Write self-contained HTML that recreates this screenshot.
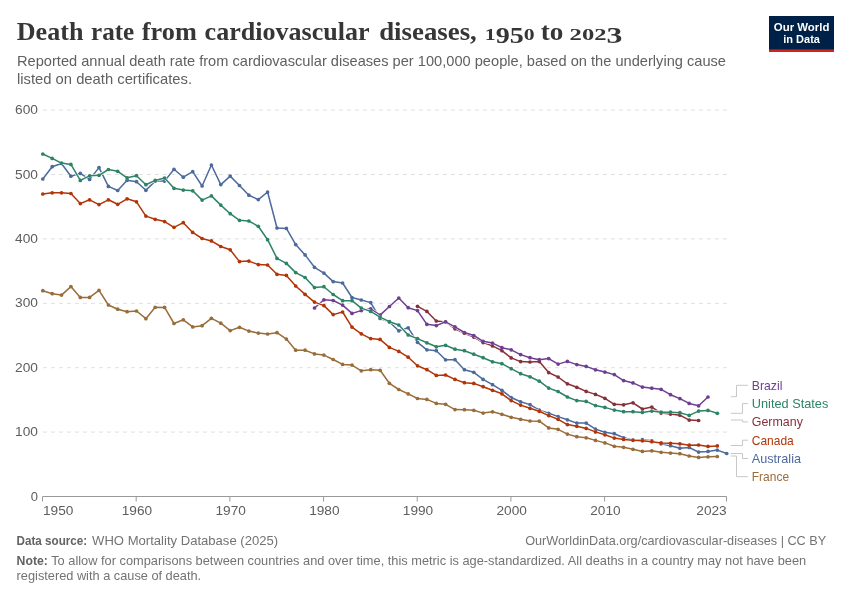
<!DOCTYPE html>
<html lang="en"><head><meta charset="utf-8"><title>Death rate from cardiovascular diseases, 1950 to 2023</title>
<style>html,body{margin:0;padding:0;background:#fff}svg{display:block}text{font-family:"Liberation Sans", Arial, sans-serif}.t text{font-family:"Liberation Serif", "Times New Roman", serif;font-weight:700}</style></head><body>
<svg width="850" height="600" viewBox="0 0 850 600">
<rect width="850" height="600" fill="#fff"/>
<g class="t" fill="#363636" font-size="26">
<text x="16.8" y="39.6" textLength="66.6" lengthAdjust="spacingAndGlyphs">Death</text>
<text x="91.0" y="39.6" textLength="43.2" lengthAdjust="spacingAndGlyphs">rate</text>
<text x="141.8" y="39.6" textLength="55.0" lengthAdjust="spacingAndGlyphs">from</text>
<text x="204.6" y="39.6" textLength="165.0" lengthAdjust="spacingAndGlyphs">cardiovascular</text>
<text x="379.2" y="39.6" textLength="97.6" lengthAdjust="spacingAndGlyphs">diseases,</text>
<text x="484.8" y="39.6" font-size="17.5" textLength="49.8" lengthAdjust="spacingAndGlyphs">1<tspan font-size="22.6" dy="3.6">95</tspan><tspan dy="-3.6">0</tspan></text>
<text x="540.8" y="39.6" textLength="22.6" lengthAdjust="spacingAndGlyphs">to</text>
<text x="569.6" y="39.6" font-size="17.5" textLength="52.8" lengthAdjust="spacingAndGlyphs">202<tspan font-size="22.6" dy="3.6">3</tspan></text>
</g>
<text x="17" y="65.6" font-size="15" fill="#606060" textLength="709" lengthAdjust="spacingAndGlyphs">Reported annual death rate from cardiovascular diseases per 100,000 people, based on the underlying cause</text>
<text x="17" y="83.6" font-size="15" fill="#606060" textLength="175" lengthAdjust="spacingAndGlyphs">listed on death certificates.</text>
<g><rect x="769" y="16" width="65" height="36" fill="#002147"/><rect x="769" y="49.4" width="65" height="2.6" fill="#CE261E"/>
<text x="801.6" y="30.7" font-size="11.5" font-weight="700" fill="#fff" text-anchor="middle" textLength="55.6" lengthAdjust="spacingAndGlyphs">Our World</text>
<text x="801.6" y="42.8" font-size="11.5" font-weight="700" fill="#fff" text-anchor="middle" textLength="36.7" lengthAdjust="spacingAndGlyphs">in Data</text></g>
<line x1="42.9" x2="726.9" y1="432.10" y2="432.10" stroke="#dfdfdf" stroke-width="1" stroke-dasharray="4,4"/>
<line x1="42.9" x2="726.9" y1="367.70" y2="367.70" stroke="#dfdfdf" stroke-width="1" stroke-dasharray="4,4"/>
<line x1="42.9" x2="726.9" y1="303.30" y2="303.30" stroke="#dfdfdf" stroke-width="1" stroke-dasharray="4,4"/>
<line x1="42.9" x2="726.9" y1="238.90" y2="238.90" stroke="#dfdfdf" stroke-width="1" stroke-dasharray="4,4"/>
<line x1="42.9" x2="726.9" y1="174.50" y2="174.50" stroke="#dfdfdf" stroke-width="1" stroke-dasharray="4,4"/>
<line x1="42.9" x2="726.9" y1="110.10" y2="110.10" stroke="#dfdfdf" stroke-width="1" stroke-dasharray="4,4"/>
<text x="30.70" y="500.60" font-size="13.5" fill="#5e5e5e" textLength="7.2" lengthAdjust="spacingAndGlyphs">0</text>
<text x="15.00" y="436.20" font-size="13.5" fill="#5e5e5e" textLength="22.9" lengthAdjust="spacingAndGlyphs">100</text>
<text x="15.00" y="371.80" font-size="13.5" fill="#5e5e5e" textLength="22.9" lengthAdjust="spacingAndGlyphs">200</text>
<text x="15.00" y="307.40" font-size="13.5" fill="#5e5e5e" textLength="22.9" lengthAdjust="spacingAndGlyphs">300</text>
<text x="15.00" y="243.00" font-size="13.5" fill="#5e5e5e" textLength="22.9" lengthAdjust="spacingAndGlyphs">400</text>
<text x="15.00" y="178.60" font-size="13.5" fill="#5e5e5e" textLength="22.9" lengthAdjust="spacingAndGlyphs">500</text>
<text x="15.00" y="114.20" font-size="13.5" fill="#5e5e5e" textLength="22.9" lengthAdjust="spacingAndGlyphs">600</text>
<path d="M42.5 501.5V496.5H726.5V501.5" fill="none" stroke="#999" stroke-width="1"/>
<line x1="136.18" x2="136.18" y1="496.5" y2="501.5" stroke="#999"/>
<text x="121.78" y="514.6" font-size="13.5" fill="#5e5e5e" textLength="30.4" lengthAdjust="spacingAndGlyphs">1960</text>
<line x1="229.87" x2="229.87" y1="496.5" y2="501.5" stroke="#999"/>
<text x="215.47" y="514.6" font-size="13.5" fill="#5e5e5e" textLength="30.4" lengthAdjust="spacingAndGlyphs">1970</text>
<line x1="323.55" x2="323.55" y1="496.5" y2="501.5" stroke="#999"/>
<text x="309.15" y="514.6" font-size="13.5" fill="#5e5e5e" textLength="30.4" lengthAdjust="spacingAndGlyphs">1980</text>
<line x1="417.24" x2="417.24" y1="496.5" y2="501.5" stroke="#999"/>
<text x="402.84" y="514.6" font-size="13.5" fill="#5e5e5e" textLength="30.4" lengthAdjust="spacingAndGlyphs">1990</text>
<line x1="510.92" x2="510.92" y1="496.5" y2="501.5" stroke="#999"/>
<text x="496.52" y="514.6" font-size="13.5" fill="#5e5e5e" textLength="30.4" lengthAdjust="spacingAndGlyphs">2000</text>
<line x1="604.61" x2="604.61" y1="496.5" y2="501.5" stroke="#999"/>
<text x="590.21" y="514.6" font-size="13.5" fill="#5e5e5e" textLength="30.4" lengthAdjust="spacingAndGlyphs">2010</text>
<text x="43.0" y="514.6" font-size="13.5" fill="#5e5e5e" textLength="30.4" lengthAdjust="spacingAndGlyphs">1950</text>
<text x="696.3" y="514.6" font-size="13.5" fill="#5e5e5e" textLength="30.4" lengthAdjust="spacingAndGlyphs">2023</text>
<g>
<path d="M42.8 179.0L52.2 166.7L61.5 163.5L70.9 176.2L80.3 173.4L89.6 179.4L99.0 167.6L108.4 186.4L117.7 190.5L127.1 180.3L136.5 181.7L145.9 190.3L155.2 181.1L164.6 181.1L174.0 169.3L183.3 177.2L192.7 171.7L202.1 186.0L211.4 165.0L220.8 184.6L230.2 176.1L239.5 185.5L248.9 195.2L258.3 199.6L267.6 192.0L277.0 228.0L286.4 228.4L295.7 244.6L305.1 254.9L314.5 267.3L323.9 273.1L333.2 281.6L342.6 283.0L352.0 297.5L361.3 300.0L370.7 302.6L380.1 318.5L389.4 322.0L398.8 330.8L408.2 327.8L417.5 342.3L426.9 349.8L436.3 350.7L445.6 359.8L455.0 359.7L464.4 369.7L473.8 372.3L483.1 379.4L492.5 384.7L501.9 390.3L511.2 397.5L520.6 401.8L530.0 404.6L539.3 410.1L548.7 413.3L558.1 416.6L567.4 419.8L576.8 423.1L586.2 423.1L595.5 429.2L604.9 432.3L614.3 433.7L623.6 437.8L633.0 440.1L642.4 439.7L651.8 440.8L661.1 443.8L670.5 445.7L679.9 448.2L689.2 447.5L698.6 452.1L708.0 451.4L717.3 450.1L726.7 453.5" fill="none" stroke="#fff" stroke-width="2.8" stroke-linejoin="round" stroke-linecap="round"/>
<path d="M42.8 179.0L52.2 166.7L61.5 163.5L70.9 176.2L80.3 173.4L89.6 179.4L99.0 167.6L108.4 186.4L117.7 190.5L127.1 180.3L136.5 181.7L145.9 190.3L155.2 181.1L164.6 181.1L174.0 169.3L183.3 177.2L192.7 171.7L202.1 186.0L211.4 165.0L220.8 184.6L230.2 176.1L239.5 185.5L248.9 195.2L258.3 199.6L267.6 192.0L277.0 228.0L286.4 228.4L295.7 244.6L305.1 254.9L314.5 267.3L323.9 273.1L333.2 281.6L342.6 283.0L352.0 297.5L361.3 300.0L370.7 302.6L380.1 318.5L389.4 322.0L398.8 330.8L408.2 327.8L417.5 342.3L426.9 349.8L436.3 350.7L445.6 359.8L455.0 359.7L464.4 369.7L473.8 372.3L483.1 379.4L492.5 384.7L501.9 390.3L511.2 397.5L520.6 401.8L530.0 404.6L539.3 410.1L548.7 413.3L558.1 416.6L567.4 419.8L576.8 423.1L586.2 423.1L595.5 429.2L604.9 432.3L614.3 433.7L623.6 437.8L633.0 440.1L642.4 439.7L651.8 440.8L661.1 443.8L670.5 445.7L679.9 448.2L689.2 447.5L698.6 452.1L708.0 451.4L717.3 450.1L726.7 453.5" fill="none" stroke="#4C6A9C" stroke-width="1.5" stroke-linejoin="round" stroke-linecap="round"/>
<g fill="#4C6A9C"><circle cx="42.8" cy="179.0" r="1.85"/><circle cx="52.2" cy="166.7" r="1.85"/><circle cx="61.5" cy="163.5" r="1.85"/><circle cx="70.9" cy="176.2" r="1.85"/><circle cx="80.3" cy="173.4" r="1.85"/><circle cx="89.6" cy="179.4" r="1.85"/><circle cx="99.0" cy="167.6" r="1.85"/><circle cx="108.4" cy="186.4" r="1.85"/><circle cx="117.7" cy="190.5" r="1.85"/><circle cx="127.1" cy="180.3" r="1.85"/><circle cx="136.5" cy="181.7" r="1.85"/><circle cx="145.9" cy="190.3" r="1.85"/><circle cx="155.2" cy="181.1" r="1.85"/><circle cx="164.6" cy="181.1" r="1.85"/><circle cx="174.0" cy="169.3" r="1.85"/><circle cx="183.3" cy="177.2" r="1.85"/><circle cx="192.7" cy="171.7" r="1.85"/><circle cx="202.1" cy="186.0" r="1.85"/><circle cx="211.4" cy="165.0" r="1.85"/><circle cx="220.8" cy="184.6" r="1.85"/><circle cx="230.2" cy="176.1" r="1.85"/><circle cx="239.5" cy="185.5" r="1.85"/><circle cx="248.9" cy="195.2" r="1.85"/><circle cx="258.3" cy="199.6" r="1.85"/><circle cx="267.6" cy="192.0" r="1.85"/><circle cx="277.0" cy="228.0" r="1.85"/><circle cx="286.4" cy="228.4" r="1.85"/><circle cx="295.7" cy="244.6" r="1.85"/><circle cx="305.1" cy="254.9" r="1.85"/><circle cx="314.5" cy="267.3" r="1.85"/><circle cx="323.9" cy="273.1" r="1.85"/><circle cx="333.2" cy="281.6" r="1.85"/><circle cx="342.6" cy="283.0" r="1.85"/><circle cx="352.0" cy="297.5" r="1.85"/><circle cx="361.3" cy="300.0" r="1.85"/><circle cx="370.7" cy="302.6" r="1.85"/><circle cx="380.1" cy="318.5" r="1.85"/><circle cx="389.4" cy="322.0" r="1.85"/><circle cx="398.8" cy="330.8" r="1.85"/><circle cx="408.2" cy="327.8" r="1.85"/><circle cx="417.5" cy="342.3" r="1.85"/><circle cx="426.9" cy="349.8" r="1.85"/><circle cx="436.3" cy="350.7" r="1.85"/><circle cx="445.6" cy="359.8" r="1.85"/><circle cx="455.0" cy="359.7" r="1.85"/><circle cx="464.4" cy="369.7" r="1.85"/><circle cx="473.8" cy="372.3" r="1.85"/><circle cx="483.1" cy="379.4" r="1.85"/><circle cx="492.5" cy="384.7" r="1.85"/><circle cx="501.9" cy="390.3" r="1.85"/><circle cx="511.2" cy="397.5" r="1.85"/><circle cx="520.6" cy="401.8" r="1.85"/><circle cx="530.0" cy="404.6" r="1.85"/><circle cx="539.3" cy="410.1" r="1.85"/><circle cx="548.7" cy="413.3" r="1.85"/><circle cx="558.1" cy="416.6" r="1.85"/><circle cx="567.4" cy="419.8" r="1.85"/><circle cx="576.8" cy="423.1" r="1.85"/><circle cx="586.2" cy="423.1" r="1.85"/><circle cx="595.5" cy="429.2" r="1.85"/><circle cx="604.9" cy="432.3" r="1.85"/><circle cx="614.3" cy="433.7" r="1.85"/><circle cx="623.6" cy="437.8" r="1.85"/><circle cx="633.0" cy="440.1" r="1.85"/><circle cx="642.4" cy="439.7" r="1.85"/><circle cx="651.8" cy="440.8" r="1.85"/><circle cx="661.1" cy="443.8" r="1.85"/><circle cx="670.5" cy="445.7" r="1.85"/><circle cx="679.9" cy="448.2" r="1.85"/><circle cx="689.2" cy="447.5" r="1.85"/><circle cx="698.6" cy="452.1" r="1.85"/><circle cx="708.0" cy="451.4" r="1.85"/><circle cx="717.3" cy="450.1" r="1.85"/><circle cx="726.7" cy="453.5" r="1.85"/></g>
</g>
<g>
<path d="M417.5 306.3L426.9 311.4L436.3 321.0L445.6 322.0L455.0 328.8L464.4 333.2L473.8 337.1L483.1 342.6L492.5 345.9L501.9 350.7L511.2 357.9L520.6 361.6L530.0 362.0L539.3 361.6L548.7 372.6L558.1 377.0L567.4 383.8L576.8 387.3L586.2 391.4L595.5 394.4L604.9 398.3L614.3 404.3L623.6 404.8L633.0 402.8L642.4 409.0L651.8 407.1L661.1 413.1L670.5 414.1L679.9 415.2L689.2 420.1L698.6 420.5" fill="none" stroke="#fff" stroke-width="2.8" stroke-linejoin="round" stroke-linecap="round"/>
<path d="M417.5 306.3L426.9 311.4L436.3 321.0L445.6 322.0L455.0 328.8L464.4 333.2L473.8 337.1L483.1 342.6L492.5 345.9L501.9 350.7L511.2 357.9L520.6 361.6L530.0 362.0L539.3 361.6L548.7 372.6L558.1 377.0L567.4 383.8L576.8 387.3L586.2 391.4L595.5 394.4L604.9 398.3L614.3 404.3L623.6 404.8L633.0 402.8L642.4 409.0L651.8 407.1L661.1 413.1L670.5 414.1L679.9 415.2L689.2 420.1L698.6 420.5" fill="none" stroke="#883039" stroke-width="1.5" stroke-linejoin="round" stroke-linecap="round"/>
<g fill="#883039"><circle cx="417.5" cy="306.3" r="1.85"/><circle cx="426.9" cy="311.4" r="1.85"/><circle cx="436.3" cy="321.0" r="1.85"/><circle cx="445.6" cy="322.0" r="1.85"/><circle cx="455.0" cy="328.8" r="1.85"/><circle cx="464.4" cy="333.2" r="1.85"/><circle cx="473.8" cy="337.1" r="1.85"/><circle cx="483.1" cy="342.6" r="1.85"/><circle cx="492.5" cy="345.9" r="1.85"/><circle cx="501.9" cy="350.7" r="1.85"/><circle cx="511.2" cy="357.9" r="1.85"/><circle cx="520.6" cy="361.6" r="1.85"/><circle cx="530.0" cy="362.0" r="1.85"/><circle cx="539.3" cy="361.6" r="1.85"/><circle cx="548.7" cy="372.6" r="1.85"/><circle cx="558.1" cy="377.0" r="1.85"/><circle cx="567.4" cy="383.8" r="1.85"/><circle cx="576.8" cy="387.3" r="1.85"/><circle cx="586.2" cy="391.4" r="1.85"/><circle cx="595.5" cy="394.4" r="1.85"/><circle cx="604.9" cy="398.3" r="1.85"/><circle cx="614.3" cy="404.3" r="1.85"/><circle cx="623.6" cy="404.8" r="1.85"/><circle cx="633.0" cy="402.8" r="1.85"/><circle cx="642.4" cy="409.0" r="1.85"/><circle cx="651.8" cy="407.1" r="1.85"/><circle cx="661.1" cy="413.1" r="1.85"/><circle cx="670.5" cy="414.1" r="1.85"/><circle cx="679.9" cy="415.2" r="1.85"/><circle cx="689.2" cy="420.1" r="1.85"/><circle cx="698.6" cy="420.5" r="1.85"/></g>
</g>
<g>
<path d="M314.5 308.0L323.9 299.8L333.2 300.5L342.6 305.1L352.0 313.4L361.3 310.6L370.7 308.8L380.1 315.1L389.4 306.5L398.8 298.0L408.2 307.7L417.5 310.6L426.9 324.3L436.3 325.6L445.6 321.8L455.0 326.9L464.4 332.5L473.8 335.5L483.1 341.3L492.5 343.1L501.9 347.7L511.2 349.8L520.6 354.6L530.0 357.7L539.3 359.7L548.7 358.6L558.1 364.1L567.4 361.4L576.8 364.6L586.2 366.4L595.5 369.8L604.9 372.1L614.3 374.6L623.6 380.6L633.0 382.9L642.4 387.1L651.8 388.2L661.1 389.3L670.5 394.7L679.9 398.6L689.2 403.4L698.6 405.8L708.0 397.0" fill="none" stroke="#fff" stroke-width="2.8" stroke-linejoin="round" stroke-linecap="round"/>
<path d="M314.5 308.0L323.9 299.8L333.2 300.5L342.6 305.1L352.0 313.4L361.3 310.6L370.7 308.8L380.1 315.1L389.4 306.5L398.8 298.0L408.2 307.7L417.5 310.6L426.9 324.3L436.3 325.6L445.6 321.8L455.0 326.9L464.4 332.5L473.8 335.5L483.1 341.3L492.5 343.1L501.9 347.7L511.2 349.8L520.6 354.6L530.0 357.7L539.3 359.7L548.7 358.6L558.1 364.1L567.4 361.4L576.8 364.6L586.2 366.4L595.5 369.8L604.9 372.1L614.3 374.6L623.6 380.6L633.0 382.9L642.4 387.1L651.8 388.2L661.1 389.3L670.5 394.7L679.9 398.6L689.2 403.4L698.6 405.8L708.0 397.0" fill="none" stroke="#6D3E91" stroke-width="1.5" stroke-linejoin="round" stroke-linecap="round"/>
<g fill="#6D3E91"><circle cx="314.5" cy="308.0" r="1.85"/><circle cx="323.9" cy="299.8" r="1.85"/><circle cx="333.2" cy="300.5" r="1.85"/><circle cx="342.6" cy="305.1" r="1.85"/><circle cx="352.0" cy="313.4" r="1.85"/><circle cx="361.3" cy="310.6" r="1.85"/><circle cx="370.7" cy="308.8" r="1.85"/><circle cx="380.1" cy="315.1" r="1.85"/><circle cx="389.4" cy="306.5" r="1.85"/><circle cx="398.8" cy="298.0" r="1.85"/><circle cx="408.2" cy="307.7" r="1.85"/><circle cx="417.5" cy="310.6" r="1.85"/><circle cx="426.9" cy="324.3" r="1.85"/><circle cx="436.3" cy="325.6" r="1.85"/><circle cx="445.6" cy="321.8" r="1.85"/><circle cx="455.0" cy="326.9" r="1.85"/><circle cx="464.4" cy="332.5" r="1.85"/><circle cx="473.8" cy="335.5" r="1.85"/><circle cx="483.1" cy="341.3" r="1.85"/><circle cx="492.5" cy="343.1" r="1.85"/><circle cx="501.9" cy="347.7" r="1.85"/><circle cx="511.2" cy="349.8" r="1.85"/><circle cx="520.6" cy="354.6" r="1.85"/><circle cx="530.0" cy="357.7" r="1.85"/><circle cx="539.3" cy="359.7" r="1.85"/><circle cx="548.7" cy="358.6" r="1.85"/><circle cx="558.1" cy="364.1" r="1.85"/><circle cx="567.4" cy="361.4" r="1.85"/><circle cx="576.8" cy="364.6" r="1.85"/><circle cx="586.2" cy="366.4" r="1.85"/><circle cx="595.5" cy="369.8" r="1.85"/><circle cx="604.9" cy="372.1" r="1.85"/><circle cx="614.3" cy="374.6" r="1.85"/><circle cx="623.6" cy="380.6" r="1.85"/><circle cx="633.0" cy="382.9" r="1.85"/><circle cx="642.4" cy="387.1" r="1.85"/><circle cx="651.8" cy="388.2" r="1.85"/><circle cx="661.1" cy="389.3" r="1.85"/><circle cx="670.5" cy="394.7" r="1.85"/><circle cx="679.9" cy="398.6" r="1.85"/><circle cx="689.2" cy="403.4" r="1.85"/><circle cx="698.6" cy="405.8" r="1.85"/><circle cx="708.0" cy="397.0" r="1.85"/></g>
</g>
<g>
<path d="M42.8 194.0L52.2 192.8L61.5 192.8L70.9 193.5L80.3 203.6L89.6 199.8L99.0 204.6L108.4 199.8L117.7 204.3L127.1 198.8L136.5 201.8L145.9 216.1L155.2 219.3L164.6 221.6L174.0 227.3L183.3 222.7L192.7 232.4L202.1 238.5L211.4 240.9L220.8 246.5L230.2 249.8L239.5 261.6L248.9 261.1L258.3 264.6L267.6 265.0L277.0 274.3L286.4 275.4L295.7 286.0L305.1 294.4L314.5 302.1L323.9 305.6L333.2 314.6L342.6 312.0L352.0 327.1L361.3 333.8L370.7 338.6L380.1 339.4L389.4 347.4L398.8 351.4L408.2 357.2L417.5 365.8L426.9 369.7L436.3 375.4L445.6 375.0L455.0 379.4L464.4 382.7L473.8 383.4L483.1 386.7L492.5 390.3L501.9 393.8L511.2 400.6L520.6 405.1L530.0 408.3L539.3 411.3L548.7 415.6L558.1 419.3L567.4 424.6L576.8 426.3L586.2 428.4L595.5 431.9L604.9 434.8L614.3 438.1L623.6 439.4L633.0 440.3L642.4 440.8L651.8 441.7L661.1 442.9L670.5 443.3L679.9 443.8L689.2 445.2L698.6 445.0L708.0 446.4L717.3 445.9" fill="none" stroke="#fff" stroke-width="2.8" stroke-linejoin="round" stroke-linecap="round"/>
<path d="M42.8 194.0L52.2 192.8L61.5 192.8L70.9 193.5L80.3 203.6L89.6 199.8L99.0 204.6L108.4 199.8L117.7 204.3L127.1 198.8L136.5 201.8L145.9 216.1L155.2 219.3L164.6 221.6L174.0 227.3L183.3 222.7L192.7 232.4L202.1 238.5L211.4 240.9L220.8 246.5L230.2 249.8L239.5 261.6L248.9 261.1L258.3 264.6L267.6 265.0L277.0 274.3L286.4 275.4L295.7 286.0L305.1 294.4L314.5 302.1L323.9 305.6L333.2 314.6L342.6 312.0L352.0 327.1L361.3 333.8L370.7 338.6L380.1 339.4L389.4 347.4L398.8 351.4L408.2 357.2L417.5 365.8L426.9 369.7L436.3 375.4L445.6 375.0L455.0 379.4L464.4 382.7L473.8 383.4L483.1 386.7L492.5 390.3L501.9 393.8L511.2 400.6L520.6 405.1L530.0 408.3L539.3 411.3L548.7 415.6L558.1 419.3L567.4 424.6L576.8 426.3L586.2 428.4L595.5 431.9L604.9 434.8L614.3 438.1L623.6 439.4L633.0 440.3L642.4 440.8L651.8 441.7L661.1 442.9L670.5 443.3L679.9 443.8L689.2 445.2L698.6 445.0L708.0 446.4L717.3 445.9" fill="none" stroke="#B13507" stroke-width="1.5" stroke-linejoin="round" stroke-linecap="round"/>
<g fill="#B13507"><circle cx="42.8" cy="194.0" r="1.85"/><circle cx="52.2" cy="192.8" r="1.85"/><circle cx="61.5" cy="192.8" r="1.85"/><circle cx="70.9" cy="193.5" r="1.85"/><circle cx="80.3" cy="203.6" r="1.85"/><circle cx="89.6" cy="199.8" r="1.85"/><circle cx="99.0" cy="204.6" r="1.85"/><circle cx="108.4" cy="199.8" r="1.85"/><circle cx="117.7" cy="204.3" r="1.85"/><circle cx="127.1" cy="198.8" r="1.85"/><circle cx="136.5" cy="201.8" r="1.85"/><circle cx="145.9" cy="216.1" r="1.85"/><circle cx="155.2" cy="219.3" r="1.85"/><circle cx="164.6" cy="221.6" r="1.85"/><circle cx="174.0" cy="227.3" r="1.85"/><circle cx="183.3" cy="222.7" r="1.85"/><circle cx="192.7" cy="232.4" r="1.85"/><circle cx="202.1" cy="238.5" r="1.85"/><circle cx="211.4" cy="240.9" r="1.85"/><circle cx="220.8" cy="246.5" r="1.85"/><circle cx="230.2" cy="249.8" r="1.85"/><circle cx="239.5" cy="261.6" r="1.85"/><circle cx="248.9" cy="261.1" r="1.85"/><circle cx="258.3" cy="264.6" r="1.85"/><circle cx="267.6" cy="265.0" r="1.85"/><circle cx="277.0" cy="274.3" r="1.85"/><circle cx="286.4" cy="275.4" r="1.85"/><circle cx="295.7" cy="286.0" r="1.85"/><circle cx="305.1" cy="294.4" r="1.85"/><circle cx="314.5" cy="302.1" r="1.85"/><circle cx="323.9" cy="305.6" r="1.85"/><circle cx="333.2" cy="314.6" r="1.85"/><circle cx="342.6" cy="312.0" r="1.85"/><circle cx="352.0" cy="327.1" r="1.85"/><circle cx="361.3" cy="333.8" r="1.85"/><circle cx="370.7" cy="338.6" r="1.85"/><circle cx="380.1" cy="339.4" r="1.85"/><circle cx="389.4" cy="347.4" r="1.85"/><circle cx="398.8" cy="351.4" r="1.85"/><circle cx="408.2" cy="357.2" r="1.85"/><circle cx="417.5" cy="365.8" r="1.85"/><circle cx="426.9" cy="369.7" r="1.85"/><circle cx="436.3" cy="375.4" r="1.85"/><circle cx="445.6" cy="375.0" r="1.85"/><circle cx="455.0" cy="379.4" r="1.85"/><circle cx="464.4" cy="382.7" r="1.85"/><circle cx="473.8" cy="383.4" r="1.85"/><circle cx="483.1" cy="386.7" r="1.85"/><circle cx="492.5" cy="390.3" r="1.85"/><circle cx="501.9" cy="393.8" r="1.85"/><circle cx="511.2" cy="400.6" r="1.85"/><circle cx="520.6" cy="405.1" r="1.85"/><circle cx="530.0" cy="408.3" r="1.85"/><circle cx="539.3" cy="411.3" r="1.85"/><circle cx="548.7" cy="415.6" r="1.85"/><circle cx="558.1" cy="419.3" r="1.85"/><circle cx="567.4" cy="424.6" r="1.85"/><circle cx="576.8" cy="426.3" r="1.85"/><circle cx="586.2" cy="428.4" r="1.85"/><circle cx="595.5" cy="431.9" r="1.85"/><circle cx="604.9" cy="434.8" r="1.85"/><circle cx="614.3" cy="438.1" r="1.85"/><circle cx="623.6" cy="439.4" r="1.85"/><circle cx="633.0" cy="440.3" r="1.85"/><circle cx="642.4" cy="440.8" r="1.85"/><circle cx="651.8" cy="441.7" r="1.85"/><circle cx="661.1" cy="442.9" r="1.85"/><circle cx="670.5" cy="443.3" r="1.85"/><circle cx="679.9" cy="443.8" r="1.85"/><circle cx="689.2" cy="445.2" r="1.85"/><circle cx="698.6" cy="445.0" r="1.85"/><circle cx="708.0" cy="446.4" r="1.85"/><circle cx="717.3" cy="445.9" r="1.85"/></g>
</g>
<g>
<path d="M42.8 290.7L52.2 293.7L61.5 295.1L70.9 286.6L80.3 297.4L89.6 297.4L99.0 290.3L108.4 305.0L117.7 309.2L127.1 311.7L136.5 311.0L145.9 318.7L155.2 307.3L164.6 307.4L174.0 323.5L183.3 319.8L192.7 326.9L202.1 325.7L211.4 318.3L220.8 323.2L230.2 330.6L239.5 327.3L248.9 331.1L258.3 333.1L267.6 334.0L277.0 332.7L286.4 339.1L295.7 350.2L305.1 350.2L314.5 353.9L323.9 355.1L333.2 359.5L342.6 364.4L352.0 365.1L361.3 370.8L370.7 369.7L380.1 370.3L389.4 383.3L398.8 389.5L408.2 393.9L417.5 398.5L426.9 399.4L436.3 403.4L445.6 404.3L455.0 409.6L464.4 409.7L473.8 410.3L483.1 413.1L492.5 411.8L501.9 414.3L511.2 417.3L520.6 419.3L530.0 421.0L539.3 421.2L548.7 427.9L558.1 429.3L567.4 434.1L576.8 436.7L586.2 437.8L595.5 440.4L604.9 442.9L614.3 446.3L623.6 447.3L633.0 449.3L642.4 451.4L651.8 450.8L661.1 452.3L670.5 453.1L679.9 453.7L689.2 456.0L698.6 457.4L708.0 456.8L717.3 456.5" fill="none" stroke="#fff" stroke-width="2.8" stroke-linejoin="round" stroke-linecap="round"/>
<path d="M42.8 290.7L52.2 293.7L61.5 295.1L70.9 286.6L80.3 297.4L89.6 297.4L99.0 290.3L108.4 305.0L117.7 309.2L127.1 311.7L136.5 311.0L145.9 318.7L155.2 307.3L164.6 307.4L174.0 323.5L183.3 319.8L192.7 326.9L202.1 325.7L211.4 318.3L220.8 323.2L230.2 330.6L239.5 327.3L248.9 331.1L258.3 333.1L267.6 334.0L277.0 332.7L286.4 339.1L295.7 350.2L305.1 350.2L314.5 353.9L323.9 355.1L333.2 359.5L342.6 364.4L352.0 365.1L361.3 370.8L370.7 369.7L380.1 370.3L389.4 383.3L398.8 389.5L408.2 393.9L417.5 398.5L426.9 399.4L436.3 403.4L445.6 404.3L455.0 409.6L464.4 409.7L473.8 410.3L483.1 413.1L492.5 411.8L501.9 414.3L511.2 417.3L520.6 419.3L530.0 421.0L539.3 421.2L548.7 427.9L558.1 429.3L567.4 434.1L576.8 436.7L586.2 437.8L595.5 440.4L604.9 442.9L614.3 446.3L623.6 447.3L633.0 449.3L642.4 451.4L651.8 450.8L661.1 452.3L670.5 453.1L679.9 453.7L689.2 456.0L698.6 457.4L708.0 456.8L717.3 456.5" fill="none" stroke="#996D39" stroke-width="1.5" stroke-linejoin="round" stroke-linecap="round"/>
<g fill="#996D39"><circle cx="42.8" cy="290.7" r="1.85"/><circle cx="52.2" cy="293.7" r="1.85"/><circle cx="61.5" cy="295.1" r="1.85"/><circle cx="70.9" cy="286.6" r="1.85"/><circle cx="80.3" cy="297.4" r="1.85"/><circle cx="89.6" cy="297.4" r="1.85"/><circle cx="99.0" cy="290.3" r="1.85"/><circle cx="108.4" cy="305.0" r="1.85"/><circle cx="117.7" cy="309.2" r="1.85"/><circle cx="127.1" cy="311.7" r="1.85"/><circle cx="136.5" cy="311.0" r="1.85"/><circle cx="145.9" cy="318.7" r="1.85"/><circle cx="155.2" cy="307.3" r="1.85"/><circle cx="164.6" cy="307.4" r="1.85"/><circle cx="174.0" cy="323.5" r="1.85"/><circle cx="183.3" cy="319.8" r="1.85"/><circle cx="192.7" cy="326.9" r="1.85"/><circle cx="202.1" cy="325.7" r="1.85"/><circle cx="211.4" cy="318.3" r="1.85"/><circle cx="220.8" cy="323.2" r="1.85"/><circle cx="230.2" cy="330.6" r="1.85"/><circle cx="239.5" cy="327.3" r="1.85"/><circle cx="248.9" cy="331.1" r="1.85"/><circle cx="258.3" cy="333.1" r="1.85"/><circle cx="267.6" cy="334.0" r="1.85"/><circle cx="277.0" cy="332.7" r="1.85"/><circle cx="286.4" cy="339.1" r="1.85"/><circle cx="295.7" cy="350.2" r="1.85"/><circle cx="305.1" cy="350.2" r="1.85"/><circle cx="314.5" cy="353.9" r="1.85"/><circle cx="323.9" cy="355.1" r="1.85"/><circle cx="333.2" cy="359.5" r="1.85"/><circle cx="342.6" cy="364.4" r="1.85"/><circle cx="352.0" cy="365.1" r="1.85"/><circle cx="361.3" cy="370.8" r="1.85"/><circle cx="370.7" cy="369.7" r="1.85"/><circle cx="380.1" cy="370.3" r="1.85"/><circle cx="389.4" cy="383.3" r="1.85"/><circle cx="398.8" cy="389.5" r="1.85"/><circle cx="408.2" cy="393.9" r="1.85"/><circle cx="417.5" cy="398.5" r="1.85"/><circle cx="426.9" cy="399.4" r="1.85"/><circle cx="436.3" cy="403.4" r="1.85"/><circle cx="445.6" cy="404.3" r="1.85"/><circle cx="455.0" cy="409.6" r="1.85"/><circle cx="464.4" cy="409.7" r="1.85"/><circle cx="473.8" cy="410.3" r="1.85"/><circle cx="483.1" cy="413.1" r="1.85"/><circle cx="492.5" cy="411.8" r="1.85"/><circle cx="501.9" cy="414.3" r="1.85"/><circle cx="511.2" cy="417.3" r="1.85"/><circle cx="520.6" cy="419.3" r="1.85"/><circle cx="530.0" cy="421.0" r="1.85"/><circle cx="539.3" cy="421.2" r="1.85"/><circle cx="548.7" cy="427.9" r="1.85"/><circle cx="558.1" cy="429.3" r="1.85"/><circle cx="567.4" cy="434.1" r="1.85"/><circle cx="576.8" cy="436.7" r="1.85"/><circle cx="586.2" cy="437.8" r="1.85"/><circle cx="595.5" cy="440.4" r="1.85"/><circle cx="604.9" cy="442.9" r="1.85"/><circle cx="614.3" cy="446.3" r="1.85"/><circle cx="623.6" cy="447.3" r="1.85"/><circle cx="633.0" cy="449.3" r="1.85"/><circle cx="642.4" cy="451.4" r="1.85"/><circle cx="651.8" cy="450.8" r="1.85"/><circle cx="661.1" cy="452.3" r="1.85"/><circle cx="670.5" cy="453.1" r="1.85"/><circle cx="679.9" cy="453.7" r="1.85"/><circle cx="689.2" cy="456.0" r="1.85"/><circle cx="698.6" cy="457.4" r="1.85"/><circle cx="708.0" cy="456.8" r="1.85"/><circle cx="717.3" cy="456.5" r="1.85"/></g>
</g>
<g>
<path d="M42.8 154.0L52.2 158.4L61.5 163.1L70.9 164.4L80.3 180.4L89.6 175.8L99.0 175.3L108.4 169.5L117.7 171.3L127.1 177.8L136.5 175.7L145.9 184.7L155.2 180.4L164.6 178.0L174.0 188.3L183.3 190.1L192.7 190.8L202.1 200.1L211.4 195.9L220.8 205.1L230.2 213.7L239.5 220.3L248.9 221.0L258.3 226.3L267.6 239.7L277.0 258.4L286.4 263.4L295.7 272.6L305.1 277.5L314.5 287.6L323.9 286.7L333.2 294.5L342.6 300.7L352.0 300.7L361.3 308.1L370.7 311.4L380.1 317.1L389.4 321.7L398.8 325.0L408.2 335.0L417.5 338.6L426.9 342.8L436.3 346.8L445.6 345.3L455.0 349.2L464.4 350.7L473.8 354.2L483.1 357.7L492.5 361.8L501.9 363.7L511.2 368.7L520.6 373.7L530.0 376.8L539.3 381.2L548.7 388.1L558.1 391.5L567.4 397.0L576.8 400.6L586.2 401.4L595.5 405.6L604.9 407.4L614.3 410.1L623.6 411.7L633.0 411.7L642.4 412.4L651.8 411.1L661.1 412.2L670.5 412.2L679.9 412.7L689.2 415.4L698.6 411.1L708.0 410.4L717.3 413.3" fill="none" stroke="#fff" stroke-width="2.8" stroke-linejoin="round" stroke-linecap="round"/>
<path d="M42.8 154.0L52.2 158.4L61.5 163.1L70.9 164.4L80.3 180.4L89.6 175.8L99.0 175.3L108.4 169.5L117.7 171.3L127.1 177.8L136.5 175.7L145.9 184.7L155.2 180.4L164.6 178.0L174.0 188.3L183.3 190.1L192.7 190.8L202.1 200.1L211.4 195.9L220.8 205.1L230.2 213.7L239.5 220.3L248.9 221.0L258.3 226.3L267.6 239.7L277.0 258.4L286.4 263.4L295.7 272.6L305.1 277.5L314.5 287.6L323.9 286.7L333.2 294.5L342.6 300.7L352.0 300.7L361.3 308.1L370.7 311.4L380.1 317.1L389.4 321.7L398.8 325.0L408.2 335.0L417.5 338.6L426.9 342.8L436.3 346.8L445.6 345.3L455.0 349.2L464.4 350.7L473.8 354.2L483.1 357.7L492.5 361.8L501.9 363.7L511.2 368.7L520.6 373.7L530.0 376.8L539.3 381.2L548.7 388.1L558.1 391.5L567.4 397.0L576.8 400.6L586.2 401.4L595.5 405.6L604.9 407.4L614.3 410.1L623.6 411.7L633.0 411.7L642.4 412.4L651.8 411.1L661.1 412.2L670.5 412.2L679.9 412.7L689.2 415.4L698.6 411.1L708.0 410.4L717.3 413.3" fill="none" stroke="#2C8465" stroke-width="1.5" stroke-linejoin="round" stroke-linecap="round"/>
<g fill="#2C8465"><circle cx="42.8" cy="154.0" r="1.85"/><circle cx="52.2" cy="158.4" r="1.85"/><circle cx="61.5" cy="163.1" r="1.85"/><circle cx="70.9" cy="164.4" r="1.85"/><circle cx="80.3" cy="180.4" r="1.85"/><circle cx="89.6" cy="175.8" r="1.85"/><circle cx="99.0" cy="175.3" r="1.85"/><circle cx="108.4" cy="169.5" r="1.85"/><circle cx="117.7" cy="171.3" r="1.85"/><circle cx="127.1" cy="177.8" r="1.85"/><circle cx="136.5" cy="175.7" r="1.85"/><circle cx="145.9" cy="184.7" r="1.85"/><circle cx="155.2" cy="180.4" r="1.85"/><circle cx="164.6" cy="178.0" r="1.85"/><circle cx="174.0" cy="188.3" r="1.85"/><circle cx="183.3" cy="190.1" r="1.85"/><circle cx="192.7" cy="190.8" r="1.85"/><circle cx="202.1" cy="200.1" r="1.85"/><circle cx="211.4" cy="195.9" r="1.85"/><circle cx="220.8" cy="205.1" r="1.85"/><circle cx="230.2" cy="213.7" r="1.85"/><circle cx="239.5" cy="220.3" r="1.85"/><circle cx="248.9" cy="221.0" r="1.85"/><circle cx="258.3" cy="226.3" r="1.85"/><circle cx="267.6" cy="239.7" r="1.85"/><circle cx="277.0" cy="258.4" r="1.85"/><circle cx="286.4" cy="263.4" r="1.85"/><circle cx="295.7" cy="272.6" r="1.85"/><circle cx="305.1" cy="277.5" r="1.85"/><circle cx="314.5" cy="287.6" r="1.85"/><circle cx="323.9" cy="286.7" r="1.85"/><circle cx="333.2" cy="294.5" r="1.85"/><circle cx="342.6" cy="300.7" r="1.85"/><circle cx="352.0" cy="300.7" r="1.85"/><circle cx="361.3" cy="308.1" r="1.85"/><circle cx="370.7" cy="311.4" r="1.85"/><circle cx="380.1" cy="317.1" r="1.85"/><circle cx="389.4" cy="321.7" r="1.85"/><circle cx="398.8" cy="325.0" r="1.85"/><circle cx="408.2" cy="335.0" r="1.85"/><circle cx="417.5" cy="338.6" r="1.85"/><circle cx="426.9" cy="342.8" r="1.85"/><circle cx="436.3" cy="346.8" r="1.85"/><circle cx="445.6" cy="345.3" r="1.85"/><circle cx="455.0" cy="349.2" r="1.85"/><circle cx="464.4" cy="350.7" r="1.85"/><circle cx="473.8" cy="354.2" r="1.85"/><circle cx="483.1" cy="357.7" r="1.85"/><circle cx="492.5" cy="361.8" r="1.85"/><circle cx="501.9" cy="363.7" r="1.85"/><circle cx="511.2" cy="368.7" r="1.85"/><circle cx="520.6" cy="373.7" r="1.85"/><circle cx="530.0" cy="376.8" r="1.85"/><circle cx="539.3" cy="381.2" r="1.85"/><circle cx="548.7" cy="388.1" r="1.85"/><circle cx="558.1" cy="391.5" r="1.85"/><circle cx="567.4" cy="397.0" r="1.85"/><circle cx="576.8" cy="400.6" r="1.85"/><circle cx="586.2" cy="401.4" r="1.85"/><circle cx="595.5" cy="405.6" r="1.85"/><circle cx="604.9" cy="407.4" r="1.85"/><circle cx="614.3" cy="410.1" r="1.85"/><circle cx="623.6" cy="411.7" r="1.85"/><circle cx="633.0" cy="411.7" r="1.85"/><circle cx="642.4" cy="412.4" r="1.85"/><circle cx="651.8" cy="411.1" r="1.85"/><circle cx="661.1" cy="412.2" r="1.85"/><circle cx="670.5" cy="412.2" r="1.85"/><circle cx="679.9" cy="412.7" r="1.85"/><circle cx="689.2" cy="415.4" r="1.85"/><circle cx="698.6" cy="411.1" r="1.85"/><circle cx="708.0" cy="410.4" r="1.85"/><circle cx="717.3" cy="413.3" r="1.85"/></g>
</g>
<path d="M730.8 396.7H736.5V385.3H748" fill="none" stroke="#c8c8c8" stroke-width="1"/>
<text x="751.8" y="389.8" font-size="13" fill="#6D3E91" textLength="30.6" lengthAdjust="spacingAndGlyphs">Brazil</text>
<path d="M730.8 413.3H742.5V403.6H748" fill="none" stroke="#c8c8c8" stroke-width="1"/>
<text x="751.8" y="408.1" font-size="13" fill="#2C8465" textLength="76.5" lengthAdjust="spacingAndGlyphs">United States</text>
<path d="M730.8 420.0H742.5V421.9H748" fill="none" stroke="#c8c8c8" stroke-width="1"/>
<text x="751.8" y="426.4" font-size="13" fill="#883039" textLength="51.1" lengthAdjust="spacingAndGlyphs">Germany</text>
<path d="M730.8 445.5H742.5V440.2H748" fill="none" stroke="#c8c8c8" stroke-width="1"/>
<text x="751.8" y="444.7" font-size="13" fill="#B13507" textLength="42.0" lengthAdjust="spacingAndGlyphs">Canada</text>
<path d="M730.8 453.5H742.5V458.5H748" fill="none" stroke="#c8c8c8" stroke-width="1"/>
<text x="751.8" y="463.0" font-size="13" fill="#4C6A9C" textLength="49.2" lengthAdjust="spacingAndGlyphs">Australia</text>
<path d="M730.8 456.0H736.5V476.7H748" fill="none" stroke="#c8c8c8" stroke-width="1"/>
<text x="751.8" y="481.2" font-size="13" fill="#996D39" textLength="37.3" lengthAdjust="spacingAndGlyphs">France</text>
<text x="16.6" y="545.3" font-size="13" fill="#636363" font-weight="700" textLength="70.6" lengthAdjust="spacingAndGlyphs">Data source:</text>
<text x="92.1" y="545.3" font-size="13" fill="#737373" textLength="186" lengthAdjust="spacingAndGlyphs">WHO Mortality Database (2025)</text>
<text x="826.2" y="545.3" font-size="13" fill="#737373" text-anchor="end" textLength="301" lengthAdjust="spacingAndGlyphs">OurWorldinData.org/cardiovascular-diseases | CC BY</text>
<text x="16.6" y="565.3" font-size="13" fill="#636363" font-weight="700" textLength="31.3" lengthAdjust="spacingAndGlyphs">Note:</text>
<text x="51.2" y="565.3" font-size="13" fill="#737373" textLength="755" lengthAdjust="spacingAndGlyphs">To allow for comparisons between countries and over time, this metric is age-standardized. All deaths in a country may not have been</text>
<text x="16.6" y="580.3" font-size="13" fill="#737373" textLength="184.5" lengthAdjust="spacingAndGlyphs">registered with a cause of death.</text>
</svg></body></html>
